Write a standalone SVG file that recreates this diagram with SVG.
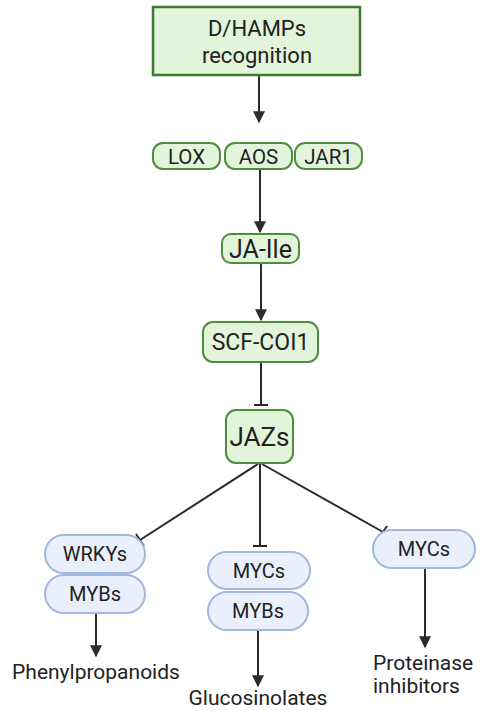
<svg xmlns="http://www.w3.org/2000/svg" width="480" height="711" viewBox="0 0 480 711">
<defs>
<style>
.g{fill:#e2f4da;stroke:#4e8c3f;stroke-width:2}
.b{fill:#e9f0fb;stroke:#a2b8de;stroke-width:2}
text{font-family:Roboto,"Liberation Sans",sans-serif;fill:#222;text-anchor:middle}
.ln{stroke:#2b2b2b;stroke-width:2;fill:none}
</style>
<marker id="ah" viewBox="0 0 10 10" refX="9" refY="5" markerWidth="6" markerHeight="6" markerUnits="strokeWidth" orient="auto">
<path d="M0,0 L10,5 L0,10 z" fill="#2b2b2b"/>
</marker>
</defs>
<rect width="480" height="711" fill="#fff"/>
<g id="connectors">
<line class="ln" x1="259" y1="76" x2="259" y2="122" marker-end="url(#ah)"/>
<line class="ln" x1="260" y1="169" x2="260" y2="232" marker-end="url(#ah)"/>
<line class="ln" x1="261" y1="263" x2="261" y2="320" marker-end="url(#ah)"/>
<line class="ln" x1="261" y1="362" x2="261" y2="405"/>
<line class="ln" x1="254" y1="405" x2="268" y2="405"/>
<line class="ln" x1="258" y1="464" x2="140" y2="540"/>
<line class="ln" x1="136" y1="534" x2="144" y2="546"/>
<line class="ln" x1="260" y1="464" x2="260" y2="546"/>
<line class="ln" x1="253" y1="546" x2="267" y2="546"/>
<line class="ln" x1="262" y1="464" x2="383" y2="532"/>
<line class="ln" x1="379" y1="538" x2="387" y2="526"/>
<line class="ln" x1="96" y1="613" x2="96" y2="656" marker-end="url(#ah)"/>
<line class="ln" x1="258" y1="630" x2="258" y2="686" marker-end="url(#ah)"/>
<line class="ln" x1="425" y1="568" x2="425" y2="647" marker-end="url(#ah)"/>
</g>
<g id="dhamps">
<rect class="g" x="153" y="7" width="207" height="68" style="stroke:#3f7a33;stroke-width:2.5"/>
<text x="257" y="36" font-size="22">D/HAMPs</text>
<text x="257" y="63" font-size="22">recognition</text>
</g>
<g id="lox">
<rect class="g" x="153" y="143" width="67" height="26" rx="10"/>
<text x="186.5" y="163.5" font-size="20.5">LOX</text>
</g>
<g id="aos">
<rect class="g" x="225" y="143" width="67" height="26" rx="10"/>
<text x="258.5" y="163.5" font-size="20.5">AOS</text>
</g>
<g id="jar1">
<rect class="g" x="295" y="143" width="67" height="26" rx="10"/>
<text x="328.5" y="163.5" font-size="20.5">JAR1</text>
</g>
<g id="jaile">
<rect class="g" x="222" y="234" width="77" height="29" rx="9"/>
<text x="260.5" y="258" font-size="25">JA-Ile</text>
</g>
<g id="scfcoi1">
<rect class="g" x="203" y="322" width="115" height="40" rx="10"/>
<text x="260.5" y="350" font-size="23">SCF-COI1</text>
</g>
<g id="jazs">
<rect class="g" x="226" y="410" width="67" height="53" rx="10"/>
<text x="259.5" y="446" font-size="26">JAZs</text>
</g>
<g id="wrkys">
<rect class="b" x="45" y="535" width="100" height="38" rx="19"/>
<text x="95" y="561" font-size="20">WRKYs</text>
</g>
<g id="mybs1">
<rect class="b" x="45" y="575" width="100" height="38" rx="19"/>
<text x="95" y="601" font-size="20">MYBs</text>
</g>
<g id="mycs2">
<rect class="b" x="208" y="552" width="102" height="37" rx="18.5"/>
<text x="259" y="578" font-size="20">MYCs</text>
</g>
<g id="mybs2">
<rect class="b" x="208" y="592" width="100" height="38" rx="19"/>
<text x="258" y="618" font-size="20">MYBs</text>
</g>
<g id="mycs3">
<rect class="b" x="373" y="530" width="102" height="38" rx="19"/>
<text x="424" y="556" font-size="20">MYCs</text>
</g>
<g id="phenyl">
<text x="96" y="679" font-size="21">Phenylpropanoids</text>
</g>
<g id="glucos">
<text x="258" y="705" font-size="21">Glucosinolates</text>
</g>
<g id="proteinase">
<text x="373" y="670" font-size="21" style="text-anchor:start">Proteinase</text>
<text x="373" y="693" font-size="21" style="text-anchor:start">inhibitors</text>
</g>
</svg>
